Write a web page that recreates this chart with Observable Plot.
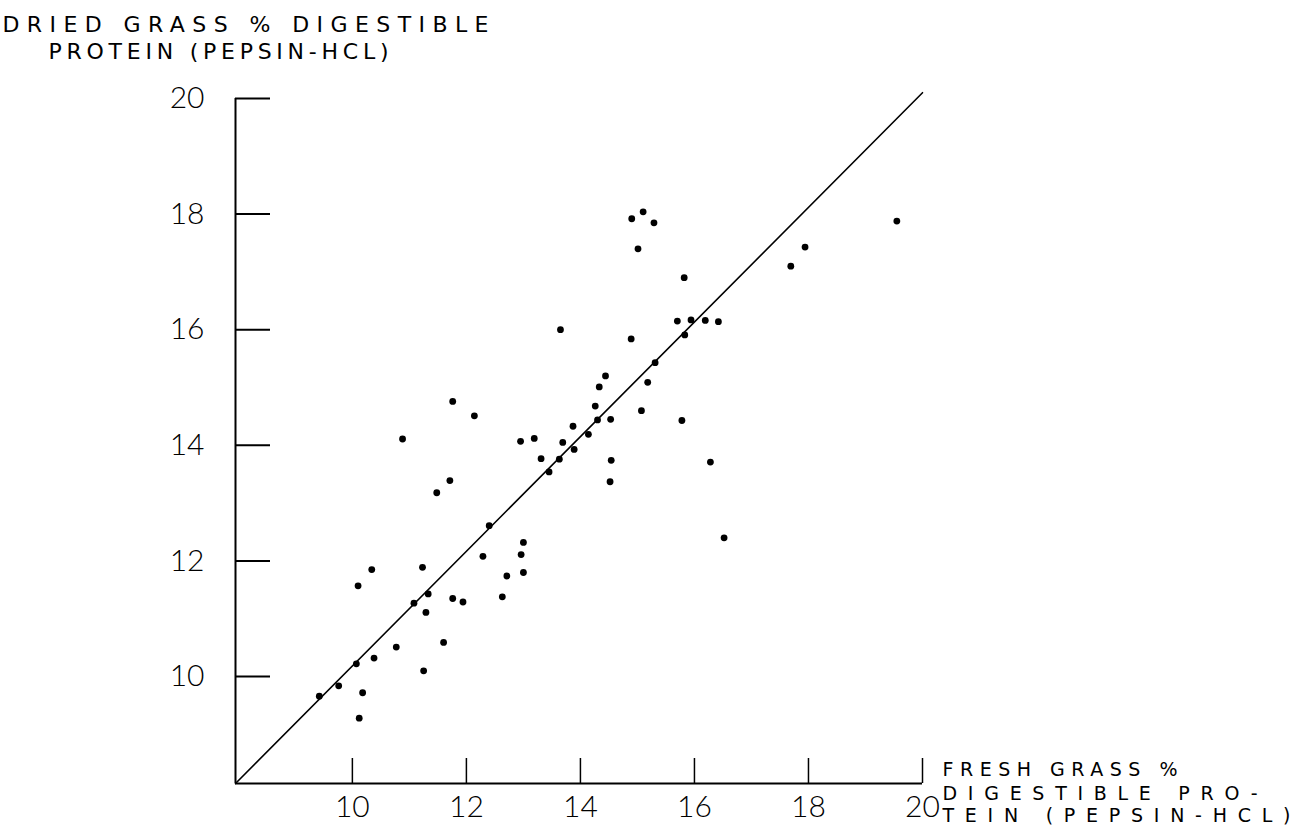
<!DOCTYPE html>
<html><head><meta charset="utf-8">
<script src="https://cdn.jsdelivr.net/npm/d3@7"></script>
<script src="https://cdn.jsdelivr.net/npm/@observablehq/plot@0.6"></script>
<style>body{margin:0;background:#fff;} #chart svg{display:block}</style>
</head><body><div id="chart"></div>
<script>
// Fresh grass % digestible protein (x) vs dried grass % digestible protein (y)
const freshProtein = [11.76,12.14,10.88,12.95,13.19,14.33,14.26,13.87,14.30,14.14,13.69,13.89,13.31,13.63,13.45,11.71,11.48,12.40,13.00,12.96,12.29,13.00,12.71,10.34,10.10,11.23,11.33,11.08,11.29,11.76,11.94,12.63,13.65,11.60,10.77,10.38,10.07,9.76,9.42,10.18,11.25,10.12,14.90,15.10,15.29,15.01,15.82,19.55,17.94,17.69,15.70,15.94,16.19,16.42,15.83,14.89,15.31,15.18,14.44,14.53,15.07,15.78,14.54,14.52,16.28,16.52];
const driedProtein = [14.76,14.51,14.11,14.07,14.12,15.01,14.68,14.33,14.44,14.19,14.05,13.93,13.77,13.76,13.54,13.39,13.18,12.61,12.32,12.11,12.08,11.80,11.74,11.85,11.57,11.89,11.43,11.27,11.11,11.35,11.29,11.38,16.00,10.59,10.51,10.32,10.22,9.84,9.66,9.72,10.10,9.28,17.92,18.04,17.85,17.40,16.90,17.88,17.43,17.10,16.15,16.17,16.16,16.14,15.91,15.84,15.43,15.09,15.20,14.45,14.60,14.43,13.74,13.37,13.71,12.40];
const xTicks = [10, 12, 14, 16, 18, 20];
const yTicks = [10, 12, 14, 16, 18, 20];
const xDomain = [7.95, 20];
const yDomain = [8.15, 20];
const refLineX = [7.95, 20];
const refLineY = [8.15, 20.1];
const yTitleLines = ["DRIED GRASS % DIGESTIBLE", "PROTEIN (PEPSIN-HCL)"];
const xTitleLines = ["FRESH GRASS %", "DIGESTIBLE PRO-", "TEIN (PEPSIN-HCL)"];

const points = freshProtein.map((x, i) => ({x, y: driedProtein[i]}));
const refLine = refLineX.map((x, i) => ({x, y: refLineY[i]}));

const W = 1292, H = 825, mL = 235, mR = 370, mT = 98, mB = 42;
const titleFont = "'DejaVu Sans', sans-serif";

const plot = Plot.plot({
  width: W, height: H,
  marginLeft: mL, marginRight: mR, marginTop: mT, marginBottom: mB,
  style: {background: "#fff", color: "#000", fontFamily: "Lato, 'Open Sans', sans-serif"},
  x: {domain: xDomain},
  y: {domain: yDomain},
  marks: [
    Plot.ruleX([xDomain[0]], {stroke: "#000", strokeWidth: 2}),
    Plot.ruleY([yDomain[0]], {stroke: "#000", strokeWidth: 2}),
    Plot.axisY(yTicks, {anchor: "left", tickSize: -35, tickPadding: 66, tickFormat: d => String(d), fontSize: 30, fontWeight: 300, strokeWidth: 2, label: null}),
    Plot.axisX(xTicks, {anchor: "bottom", tickSize: -25, tickPadding: 37, tickFormat: d => String(d), fontSize: 30, fontWeight: 300, strokeWidth: 1.5, label: null}),
    Plot.line(refLine, {x: "x", y: "y", stroke: "#000", strokeWidth: 1.6}),
    Plot.dot(points, {x: "x", y: "y", r: 3.4, fill: "#000", stroke: "none"}),
    Plot.text([yTitleLines[0]], {text: d => d, frameAnchor: "top-left", dx: 2 - mL, dy: 31 - mT, textAnchor: "start", lineAnchor: "bottom", fontSize: 22, fontFamily: titleFont}),
    Plot.text([yTitleLines[1]], {text: d => d, frameAnchor: "top-left", dx: 48 - mL, dy: 58 - mT, textAnchor: "start", lineAnchor: "bottom", fontSize: 22, fontFamily: titleFont}),
    Plot.text([xTitleLines[0]], {text: d => d, frameAnchor: "bottom-right", dx: 20, dy: 775 - (H - mB), textAnchor: "start", lineAnchor: "bottom", fontSize: 19, fontFamily: titleFont}),
    Plot.text([xTitleLines[1]], {text: d => d, frameAnchor: "bottom-right", dx: 20, dy: 799 - (H - mB), textAnchor: "start", lineAnchor: "bottom", fontSize: 19, fontFamily: titleFont}),
    Plot.text([xTitleLines[2]], {text: d => d, frameAnchor: "bottom-right", dx: 20, dy: 821 - (H - mB), textAnchor: "start", lineAnchor: "bottom", fontSize: 19, fontFamily: titleFont})
  ]
});
document.getElementById("chart").appendChild(plot);

// stretch the lettering to the widths seen in the figure
const widths = new Map([
  [yTitleLines[0], 486], [yTitleLines[1], 340],
  [xTitleLines[0], 235], [xTitleLines[1], 315], [xTitleLines[2], 348]
]);
d3.select(plot).selectAll("text").each(function() {
  const t = this.textContent;
  if (widths.has(t)) {
    this.setAttribute("textLength", widths.get(t));
    this.setAttribute("lengthAdjust", "spacing");
  }
});
</script>
</body></html>
